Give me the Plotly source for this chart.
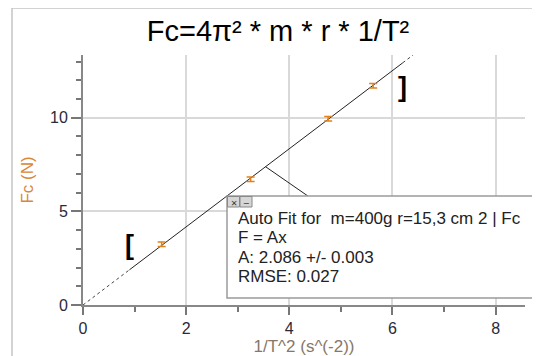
import plotly.graph_objects as go

# measured points: 1/T^2 (s^-2) vs Fc (N)
inv_t2 = [1.525, 3.25, 4.754, 5.626]
fc = [3.24, 6.71, 9.94, 11.71]
fc_err = [0.12, 0.12, 0.12, 0.12]

# auto fit F = A x
A = 2.086
fit_range = [0.9, 6.2]
fit_text = ["Auto Fit for  m=400g r=15,3 cm 2 | Fc", "F = Ax", "A: 2.086 +/- 0.003", "RMSE: 0.027"]

# page is 540x356, the html body adds an 8px margin
OFF = 8
W, H = 540 - OFF, 356 - OFF
PL, PR, PT, PB = 83, 525, 55, 305  # plot area in page pixels
pw, ph = PR - PL, PB - PT


def px(x):
    return (x - PL) / pw


def py(y):
    return (PB - y) / ph


orange = "#e0821c"
font = "Liberation Sans, Arial"
fig = go.Figure()

# fit line: dotted outside the fit range, solid inside
fx0, fx1 = fit_range
fig.add_trace(go.Scatter(x=[0, fx0], y=[0, A * fx0], mode="lines",
                         line=dict(color="#444", width=1, dash="dot"), showlegend=False, hoverinfo="skip"))
fig.add_trace(go.Scatter(x=[fx0, fx1], y=[A * fx0, A * fx1], mode="lines",
                         line=dict(color="#222", width=1), showlegend=False, hoverinfo="skip"))
fig.add_trace(go.Scatter(x=[fx1, 6.4], y=[A * fx1, A * 6.4], mode="lines",
                         line=dict(color="#444", width=1, dash="dot"), showlegend=False, hoverinfo="skip"))

fig.add_trace(go.Scatter(
    x=inv_t2, y=fc, mode="markers",
    marker=dict(size=1, color="rgba(0,0,0,0)"),
    error_y=dict(type="data", array=fc_err, color=orange, thickness=1.5, width=4),
    showlegend=False,
))

# connector from fit line to the box
cx = 3.54
fig.add_shape(type="line", xref="x", yref="y", x0=cx, y0=A * cx, x1=4.36, y1=5.82,
              line=dict(color="#222", width=1))

# outer frame
fig.add_shape(type="line", xref="paper", yref="paper", x0=px(12), y0=py(8), x1=px(545), y1=py(8),
              line=dict(color="#c4c4c4", width=1.5))
fig.add_shape(type="line", xref="paper", yref="paper", x0=px(12), y0=py(8), x1=px(12), y1=py(360),
              line=dict(color="#c4c4c4", width=1.5))

# fit info box
fig.add_shape(type="rect", xref="paper", yref="paper", x0=px(227), x1=px(537), y0=py(298), y1=py(196),
              line=dict(color="#9a9a9a", width=1.5), fillcolor="white", layer="above")
for bx0, bx1, sym in [(227.5, 239.5, "×"), (240, 252, "−")]:
    fig.add_shape(type="rect", xref="paper", yref="paper", x0=px(bx0), x1=px(bx1), y0=py(207), y1=py(196.5),
                  line=dict(color="#888", width=1), fillcolor="#d6d6d6", layer="above")
    fig.add_annotation(xref="paper", yref="paper", x=px((bx0 + bx1) / 2), y=py(202), text=sym,
                       showarrow=False, font=dict(size=11, color="#333"), xanchor="center", yanchor="middle")

for i, line in enumerate(fit_text):
    fig.add_annotation(xref="paper", yref="paper", x=px(236), y=py(218 + i * 19.6), text=line,
                       showarrow=False, xanchor="left", yanchor="middle",
                       font=dict(family=font, size=17, color="#222"))

# fit range brackets
fig.add_annotation(x=fx0, y=3.2, text="<b>[</b>", showarrow=False,
                   font=dict(family=font, size=27, color="black"))
fig.add_annotation(x=fx1, y=11.65, text="<b>]</b>", showarrow=False,
                   font=dict(family=font, size=27, color="black"))

axis_common = dict(
    showline=True, linecolor="#888", linewidth=2, mirror=False, automargin=False,
    ticks="outside", tickwidth=2, tickcolor="#777",
    showgrid=True, gridcolor="#d9d9d9", gridwidth=1.5, zeroline=False,
    tickfont=dict(family=font, size=16, color="#2a2a3a"),
)

fig.update_xaxes(
    range=[0, 8.57], dtick=2, ticklen=8,
    minor=dict(dtick=1, ticklen=5, tickwidth=2, tickcolor="#777", ticks="outside", showgrid=False),
    title=dict(text="1/T^2 (s^(-2))", standoff=5,
               font=dict(family=font, size=17, color="#85786a")),
    **axis_common,
)
fig.update_yaxes(
    range=[0, 13.35], dtick=5, ticklen=10,
    minor=dict(dtick=1, ticklen=5, tickwidth=2, tickcolor="#777", ticks="outside", showgrid=False),
    title=dict(text="Fc (N)", standoff=12,
               font=dict(family=font, size=17, color="#d9883a")),
    **axis_common,
)

fig.update_layout(
    width=W, height=H,
    margin=dict(l=PL - OFF, r=W - (PR - OFF), t=PT - OFF, b=H - (PB - OFF)),
    paper_bgcolor="white", plot_bgcolor="white",
    title=dict(text="Fc=4π² * m * r * 1/T²", x=(278 - OFF) / W, xanchor="center", xref="container",
               y=1 - (31 - OFF) / H, yanchor="middle", yref="container", automargin=False,
               font=dict(family=font, size=29, color="black")),
)

fig.write_html("out.html")
